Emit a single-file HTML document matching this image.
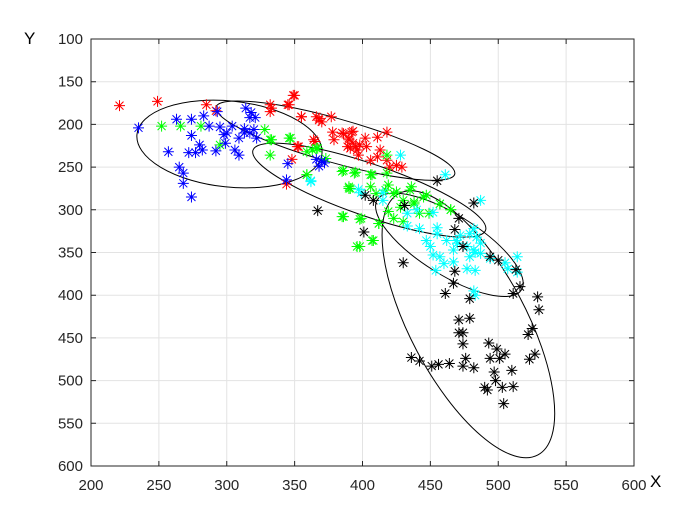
<!DOCTYPE html>
<html><head><meta charset="utf-8">
<style>
html,body{margin:0;padding:0;background:#fff;}
svg{display:block;font-family:"Liberation Sans",Arial,sans-serif;}
</style></head>
<body>
<svg id="chart" width="700" height="525" viewBox="0 0 700 525" xmlns="http://www.w3.org/2000/svg">
<rect x="0" y="0" width="700" height="525" fill="#fff"/>
<g id="grid"></g>
<g id="ellipses"></g>
<g id="points"></g>
<g id="axes"></g>
<text x="24" y="44" font-size="17" fill="#000">Y</text>
<text x="650" y="487" font-size="17" fill="#000">X</text>
</svg>
<script>
const xTicks = [200,250,300,350,400,450,500,550,600];
const yTicks = [100,150,200,250,300,350,400,450,500,550,600];
const redPts = [[221,178],[249,173],[285,177],[292,184],[332,177],[332,185],[346,177],[350,166],[355,191],[366,191],[368,195],[377,191],[365,220],[352,226],[348,241],[344,270],[385,210],[393,208],[390,216],[395,226],[349,166],[345,177],[333,181],[355,191],[368,193],[370,197],[378,209],[386,211],[392,209],[379,218],[390,218],[393,222],[396,230],[397,236],[402,216],[403,226],[411,215],[418,209],[413,230],[411,238],[406,242],[418,242],[420,250],[425,248],[429,250],[364,218],[353,226],[391,228],[398,224],[389,226]];
const greenPts = [[252,202],[266,202],[281,202],[295,224],[328,206],[332,218],[332,236],[346,216],[359,232],[363,230],[367,228],[359,259],[373,240],[385,255],[390,275],[394,257],[385,308],[396,343],[398,311],[333,218],[347,216],[366,228],[386,254],[395,256],[406,259],[418,236],[418,257],[390,273],[406,273],[359,259],[410,281],[417,277],[423,281],[430,289],[435,277],[438,293],[442,304],[445,285],[449,304],[457,293],[465,300],[412,316],[423,310],[419,302],[428,297],[408,336],[430,314],[386,308],[399,310],[398,343],[407,336],[412,316],[391,275],[407,259],[419,271],[425,279],[436,273],[438,291],[447,283],[457,293],[465,300]];
const bluePts = [[235,204],[257,232],[263,194],[265,250],[268,257],[268,269],[274,285],[274,194],[274,213],[272,233],[277,233],[280,224],[282,230],[283,190],[287,202],[292,231],[293,185],[295,203],[298,212],[299,222],[300,210],[304,202],[306,230],[309,236],[309,216],[313,210],[314,181],[317,192],[318,186],[321,192],[320,206],[322,216],[317,210],[313,205],[345,246],[344,265],[366,241],[370,243],[372,245],[368,249]];
const cyanPts = [[428,236],[461,259],[362,267],[362,266],[415,289],[433,304],[442,322],[455,328],[462,336],[479,328],[484,332],[477,343],[482,347],[487,351],[467,347],[457,355],[460,363],[479,355],[450,343],[452,353],[467,361],[477,369],[483,371],[470,339],[487,339],[494,357],[507,369],[514,373],[483,400],[514,355],[454,371],[433,319],[447,336],[452,303],[455,321],[469,336],[482,322],[483,350],[505,362],[487,289],[482,395],[397,276],[399,280],[415,280],[440,300],[472,330]];
const blackPts = [[455,266],[402,283],[408,289],[431,295],[482,292],[471,310],[468,323],[401,326],[430,362],[474,343],[494,355],[500,359],[513,370],[468,372],[467,386],[461,398],[479,404],[511,398],[516,390],[529,402],[530,417],[471,429],[479,427],[471,444],[474,444],[474,457],[525,439],[522,446],[527,469],[523,475],[436,473],[442,477],[451,483],[456,481],[464,480],[476,474],[474,483],[482,485],[493,456],[499,463],[505,469],[494,474],[501,474],[497,490],[498,500],[510,488],[490,508],[492,511],[503,508],[511,507],[504,527],[367,301]];
// ellipse centres in data units; semi-axes in px, angle in degrees (screen)
const ellCenters = [[302,223],[380,219],[405,277],[464,341],[478,434]];
const ellSemiA = [93,124,123,85,148];
const ellSemiB = [43,22,26,30,58];
const ellAngle = [6,15.7,19,32,62];

const L=91,R=634,T=39,B=466;
function xs(v){return L+(v-200)/(600-200)*(R-L);}
function ys(v){return T+(v-100)/(600-100)*(B-T);}
const NS="http://www.w3.org/2000/svg";
function mk(tag,parent){const e=document.createElementNS(NS,tag);parent.appendChild(e);return e;}

const grid=document.getElementById('grid');
xTicks.forEach(t=>{const l=mk('line',grid);


l.setAttribute('x1',xs(t));l.setAttribute('x2',xs(t));l.setAttribute('y1',T);l.setAttribute('y2',B);l.setAttribute('stroke','#e3e3e3');});
yTicks.forEach(t=>{const l=mk('line',grid);


l.setAttribute('y1',ys(t));l.setAttribute('y2',ys(t));l.setAttribute('x1',L);l.setAttribute('x2',R);l.setAttribute('stroke','#e3e3e3');});

const eg=document.getElementById('ellipses');
ellCenters.forEach((c,i)=>{const e=mk('ellipse',eg);


e.setAttribute('cx',0);e.setAttribute('cy',0);e.setAttribute('rx',ellSemiA[i]);e.setAttribute('ry',ellSemiB[i]);
e.setAttribute('transform','translate('+xs(c[0])+','+ys(c[1])+') rotate('+ellAngle[i]+')');
e.setAttribute('fill','none');e.setAttribute('stroke','#000');e.setAttribute('stroke-width','1');});

const pg=document.getElementById('points');
function star(x,y,col){const g=mk('g',pg);


const s=5.5,d=4;
const d1="M"+(x-s)+" "+y+"H"+(x+s)+"M"+x+" "+(y-s)+"V"+(y+s)+"M"+(x-d)+" "+(y-d)+"L"+(x+d)+" "+(y+d)+"M"+(x-d)+" "+(y+d)+"L"+(x+d)+" "+(y-d);
const p=mk('path',g);p.setAttribute('d',d1);p.setAttribute('stroke',col);p.setAttribute('stroke-width','1');}
[[redPts,'#ff0000'],[greenPts,'#00ff00'],[cyanPts,'#00ffff'],[bluePts,'#0000ff'],[blackPts,'#000000']].forEach(([arr,col])=>{arr.forEach(p=>star(xs(p[0]),ys(p[1]),col));});

const ax=document.getElementById('axes');
const box=mk('rect',ax);


box.setAttribute('x',L);box.setAttribute('y',T);box.setAttribute('width',R-L);box.setAttribute('height',B-T);box.setAttribute('fill','none');box.setAttribute('stroke','#262626');box.setAttribute('stroke-width','1');
xTicks.forEach(t=>{const l=mk('path',ax);


l.setAttribute('d','M'+xs(t)+' '+B+'V'+(B-5)+'M'+xs(t)+' '+T+'V'+(T+5));l.setAttribute('stroke','#262626');
const tx=mk('text',ax);


tx.setAttribute('x',xs(t));tx.setAttribute('y',B+24);tx.setAttribute('text-anchor','middle');tx.setAttribute('font-size','15');tx.setAttribute('fill','#262626');tx.textContent=t;});
yTicks.forEach(t=>{const l=mk('path',ax);


l.setAttribute('d','M'+L+' '+ys(t)+'H'+(L+5)+'M'+R+' '+ys(t)+'H'+(R-5));l.setAttribute('stroke','#262626');
const tx=mk('text',ax);


tx.setAttribute('x',L-8);tx.setAttribute('y',ys(t)+5);tx.setAttribute('text-anchor','end');tx.setAttribute('font-size','15');tx.setAttribute('fill','#262626');tx.textContent=t;});
</script>
</body></html>
